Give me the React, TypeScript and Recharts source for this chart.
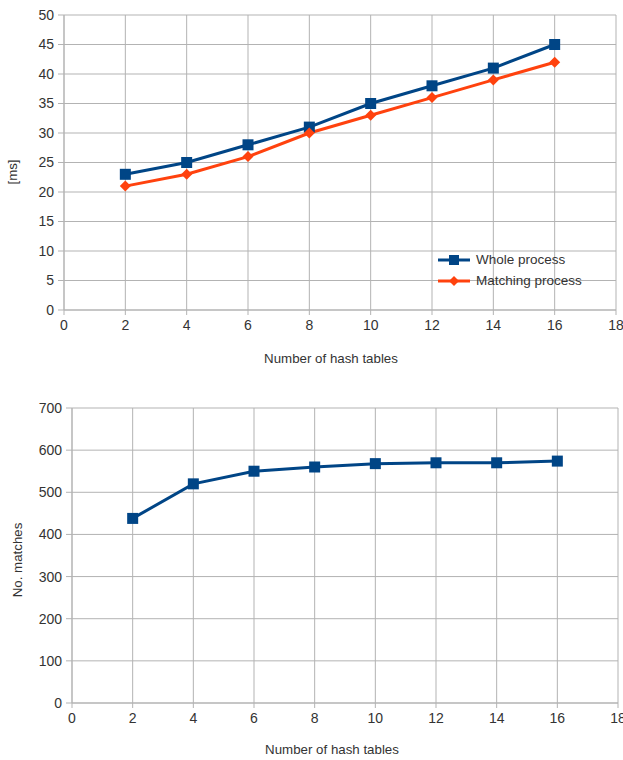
import { CartesianGrid, Line, LineChart, XAxis, YAxis } from "recharts";

const hashTables = [2, 4, 6, 8, 10, 12, 14, 16];
const wholeProcessMs = [23, 25, 28, 31, 35, 38, 41, 45];
const matchingProcessMs = [21, 23, 26, 30, 33, 36, 39, 42];
const numMatches = [438, 520, 550, 560, 568, 570, 570, 574];

const xTicks = [0, 2, 4, 6, 8, 10, 12, 14, 16, 18];
const msTicks = [0, 5, 10, 15, 20, 25, 30, 35, 40, 45, 50];
const matchTicks = [0, 100, 200, 300, 400, 500, 600, 700];

const BLUE = "#004586";
const ORANGE = "#ff420e";
const GRID = "#b3b3b3";
const TEXT = "#333333";
const FONT = "'Liberation Sans', Arial, sans-serif";

const timeData = hashTables.map((x, i) => ({
  x,
  whole: wholeProcessMs[i],
  matching: matchingProcessMs[i],
}));
const matchData = hashTables.map((x, i) => ({ x, matches: numMatches[i] }));

const tick = { fontSize: 14, fill: TEXT, fontFamily: FONT };

function Square(props: any) {
  const { cx, cy, index } = props;
  if (cx == null || cy == null) return <g key={index} />;
  return <rect key={index} x={cx - 5.5} y={cy - 5.5} width={11} height={11} fill={BLUE} />;
}

function Diamond(props: any) {
  const { cx, cy, index } = props;
  if (cx == null || cy == null) return <g key={index} />;
  const r = 5.5;
  return (
    <polygon
      key={index}
      points={`${cx},${cy - r} ${cx + r},${cy} ${cx},${cy + r} ${cx - r},${cy}`}
      fill={ORANGE}
    />
  );
}

// legend sits inside the plot, bottom right, grid shows through
function TimeLegend() {
  const items = [
    { name: "Whole process", color: BLUE, marker: "square" },
    { name: "Matching process", color: ORANGE, marker: "diamond" },
  ];
  return (
    <div
      style={{
        position: "absolute",
        left: 436,
        top: 249,
        fontFamily: FONT,
        fontSize: 13.5,
        color: TEXT,
      }}
    >
      {items.map((it) => (
        <div key={it.name} style={{ display: "flex", alignItems: "center", height: 21 }}>
          <svg width={36} height={14} style={{ marginRight: 4 }}>
            <line x1={2} y1={7} x2={34} y2={7} stroke={it.color} strokeWidth={3} />
            {it.marker === "square" ? (
              <rect x={13} y={2} width={10} height={10} fill={it.color} />
            ) : (
              <polygon points="18,2 23,7 18,12 13,7" fill={it.color} />
            )}
          </svg>
          <span>{it.name}</span>
        </div>
      ))}
    </div>
  );
}

const titleStyle = {
  position: "absolute" as const,
  fontFamily: FONT,
  fontSize: 13.3,
  color: TEXT,
  whiteSpace: "nowrap" as const,
  transform: "translate(-50%, -50%)",
};

export default function App() {
  return (
    <div style={{ position: "absolute", left: 0, top: 0, width: 623, height: 760, background: "#fff" }}>
      <LineChart width={623} height={390} data={timeData} margin={{ top: 15, right: 7, left: 0, bottom: 20 }}>
        <CartesianGrid stroke={GRID} />
        <XAxis
          dataKey="x"
          type="number"
          domain={[0, 18]}
          ticks={xTicks}
          height={60}
          stroke={GRID}
          tick={tick}
          tickSize={5}
          tickMargin={5}
          interval={0}
        />
        <YAxis
          type="number"
          domain={[0, 50]}
          ticks={msTicks}
          width={64}
          stroke={GRID}
          tick={tick}
          tickSize={6}
          tickMargin={4}
          interval={0}
        />
        <Line
          dataKey="whole"
          name="Whole process"
          stroke={BLUE}
          strokeWidth={3}
          dot={Square}
          activeDot={false}
          isAnimationActive={false}
        />
        <Line
          dataKey="matching"
          name="Matching process"
          stroke={ORANGE}
          strokeWidth={3}
          dot={Diamond}
          activeDot={false}
          isAnimationActive={false}
        />
      </LineChart>

      <LineChart width={623} height={370} data={matchData} margin={{ top: 18, right: 5, left: 0, bottom: 7 }}>
        <CartesianGrid stroke={GRID} />
        <XAxis
          dataKey="x"
          type="number"
          domain={[0, 18]}
          ticks={xTicks}
          height={50}
          stroke={GRID}
          tick={tick}
          tickSize={5}
          tickMargin={5}
          interval={0}
        />
        <YAxis
          type="number"
          domain={[0, 700]}
          ticks={matchTicks}
          width={72}
          stroke={GRID}
          tick={tick}
          tickSize={6}
          tickMargin={4}
          interval={0}
        />
        <Line
          dataKey="matches"
          name="No. matches"
          stroke={BLUE}
          strokeWidth={3}
          dot={Square}
          activeDot={false}
          isAnimationActive={false}
        />
      </LineChart>

      <TimeLegend />
      <div style={{ ...titleStyle, left: 331, top: 358 }}>Number of hash tables</div>
      <div style={{ ...titleStyle, left: 12, top: 172, transform: "translate(-50%, -50%) rotate(-90deg)" }}>[ms]</div>
      <div style={{ ...titleStyle, left: 332, top: 749 }}>Number of hash tables</div>
      <div style={{ ...titleStyle, left: 17, top: 560, transform: "translate(-50%, -50%) rotate(-90deg)" }}>
        No. matches
      </div>
    </div>
  );
}
